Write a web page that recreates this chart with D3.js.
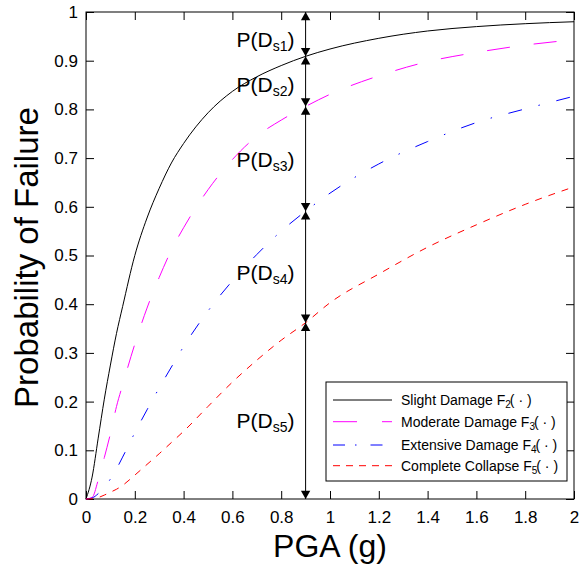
<!DOCTYPE html>
<html>
<head>
<meta charset="utf-8">
<script src="https://cdn.jsdelivr.net/npm/d3@7"></script>
<style>
  html, body { margin: 0; padding: 0; background: #fff; }
  svg { display: block; }
  text { font-family: "Liberation Sans", Arial, Helvetica, sans-serif; fill: #000; }
</style>
</head>
<body>
<svg id="chart" width="587" height="568"></svg>
<script>
// ---------- data ----------
const pga = [0, 0.025, 0.05, 0.075, 0.1, 0.125, 0.15, 0.2, 0.25, 0.3, 0.35, 0.4, 0.5, 0.6, 0.7, 0.8, 0.9, 1.0, 1.2, 1.4, 1.6, 1.8, 2.0];
const slight    = [0, 0.045, 0.125, 0.205, 0.275, 0.34, 0.395, 0.50, 0.577, 0.638, 0.69, 0.73, 0.793, 0.837, 0.867, 0.890, 0.909, 0.924, 0.946, 0.961, 0.970, 0.976, 0.980];
const moderate  = [0, 0.003, 0.039, 0.085, 0.134, 0.19, 0.234, 0.318, 0.392, 0.455, 0.511, 0.557, 0.635, 0.697, 0.745, 0.778, 0.806, 0.831, 0.869, 0.898, 0.917, 0.932, 0.943];
const extensive = [0, 0.002, 0.011, 0.024, 0.041, 0.062, 0.086, 0.136, 0.183, 0.228, 0.271, 0.313, 0.386, 0.448, 0.502, 0.550, 0.591, 0.628, 0.688, 0.734, 0.773, 0.801, 0.827];
const collapse  = [0, 0.0005, 0.003, 0.008, 0.014, 0.02, 0.028, 0.049, 0.071, 0.093, 0.116, 0.139, 0.19, 0.24, 0.285, 0.326, 0.362, 0.403, 0.462, 0.517, 0.563, 0.605, 0.641];

const seriesNames = ["Slight Damage F", "Moderate Damage F", "Extensive Damage F", "Complete Collapse F"];
const seriesSubs = ["2", "3", "4", "5"];
const seriesColors = ["#000000", "#ff00ff", "#0000ff", "#ff0000"];
const seriesDash = [null, "23,24", "14,17,1.5,17", "7,7"];
const legendDash = [null, "24,25", "12,10,1.5,14", "7,6"];

const xTicks = [0, 0.2, 0.4, 0.6, 0.8, 1, 1.2, 1.4, 1.6, 1.8, 2];
const yTicks = [0, 0.1, 0.2, 0.3, 0.4, 0.5, 0.6, 0.7, 0.8, 0.9, 1];

// damage-state annotation at PGA = 0.9 g
const annotX = 0.9;
const stateBounds = [1, 0.909, 0.806, 0.591, 0.362, 0];
const stateSubs = ["s1", "s2", "s3", "s4", "s5"];
const stateLabelY = [0.943, 0.851, 0.697, 0.465, 0.161];

(function () {
  const svg = d3.select("#chart");
  const pL = 86, pR = 574, pT = 12, pB = 499;
  const x = d3.scaleLinear().domain([0, 2]).range([pL, pR]);
  const y = d3.scaleLinear().domain([0, 1]).range([pB, pT]);
  const fmt = d3.format("~g");

  // axes (inward ticks, MATLAB style)
  const gx = svg.append("g").attr("transform", `translate(0,${pB})`)
    .call(d3.axisBottom(x).tickValues(xTicks).tickFormat(fmt).tickSizeInner(-8).tickSizeOuter(0).tickPadding(12));
  const gy = svg.append("g").attr("transform", `translate(${pL},0)`)
    .call(d3.axisLeft(y).tickValues(yTicks).tickFormat(fmt).tickSizeInner(-8).tickSizeOuter(0).tickPadding(8));
  const gxt = svg.append("g").attr("transform", `translate(0,${pT})`)
    .call(d3.axisTop(x).tickValues(xTicks).tickFormat("").tickSizeInner(-8).tickSizeOuter(0));
  const gyr = svg.append("g").attr("transform", `translate(${pR},0)`)
    .call(d3.axisRight(y).tickValues(yTicks).tickFormat("").tickSizeInner(-8).tickSizeOuter(0));
  [gx, gy, gxt, gyr].forEach(g => {
    g.select(".domain").remove();
    g.selectAll(".tick line").attr("stroke", "#000").attr("stroke-width", 1);
    g.selectAll(".tick text").attr("font-size", 17).attr("font-family", "Liberation Sans, Arial, sans-serif").attr("fill", "#000");
  });
  svg.append("rect").attr("x", pL).attr("y", pT).attr("width", pR - pL).attr("height", pB - pT)
    .attr("fill", "none").attr("stroke", "#000").attr("stroke-width", 1);

  // axis titles
  svg.append("text").attr("x", (pL + pR) / 2).attr("y", 557).attr("text-anchor", "middle")
    .attr("font-size", 32).text("PGA (g)");
  svg.append("text").attr("transform", `translate(38,${(pT + pB) / 2 + 2}) rotate(-90)`)
    .attr("text-anchor", "middle").attr("font-size", 33).text("Probability of Failure");

  // curves
  const allSeries = [slight, moderate, extensive, collapse];
  const line = d3.line().x(d => x(d[0])).y(d => y(d[1])).curve(d3.curveMonotoneX);
  allSeries.forEach((vals, i) => {
    svg.append("path")
      .datum(pga.map((p, j) => [p, vals[j]]))
      .attr("d", line)
      .attr("fill", "none")
      .attr("stroke", seriesColors[i])
      .attr("stroke-width", 1)
      .attr("stroke-dasharray", seriesDash[i]);
  });

  // damage-state arrows
  const ax = x(annotX);
  svg.append("line").attr("x1", ax).attr("x2", ax)
    .attr("y1", y(stateBounds[0])).attr("y2", y(stateBounds[stateBounds.length - 1]))
    .attr("stroke", "#000").attr("stroke-width", 1);
  const tw = 4.7, th = 8.3;
  for (let i = 0; i < stateBounds.length - 1; i++) {
    const yt = y(stateBounds[i]), yb = y(stateBounds[i + 1]);
    svg.append("path").attr("d", `M${ax},${yt} L${ax - tw},${yt + th} L${ax + tw},${yt + th} Z`).attr("fill", "#000");
    svg.append("path").attr("d", `M${ax},${yb} L${ax - tw},${yb - th} L${ax + tw},${yb - th} Z`).attr("fill", "#000");
    const t = svg.append("text").attr("x", ax - 69).attr("y", y(stateLabelY[i]) + 7.5).attr("font-size", 21);
    t.append("tspan").text("P(D");
    t.append("tspan").attr("font-size", 14).attr("dy", 4).text(stateSubs[i]);
    t.append("tspan").attr("dy", -4).text(")");
  }

  // legend
  const lg = svg.append("g");
  lg.append("rect").attr("x", 326).attr("y", 382).attr("width", 241).attr("height", 99)
    .attr("fill", "#fff").attr("stroke", "#000").attr("stroke-width", 1);
  const rowY = [400, 421.7, 445, 465.7];
  seriesNames.forEach((name, i) => {
    lg.append("line").attr("x1", 333).attr("x2", 392).attr("y1", rowY[i]).attr("y2", rowY[i])
      .attr("stroke", seriesColors[i]).attr("stroke-width", 1).attr("stroke-dasharray", legendDash[i]);
    const t = lg.append("text").attr("x", 401).attr("y", rowY[i] + 5).attr("font-size", 14);
    t.append("tspan").text(name);
    t.append("tspan").attr("font-size", 10).attr("dy", 3).text(seriesSubs[i]);
    t.append("tspan").attr("dy", -3).attr("dx", -1).text("( · )");
  });
})();
</script>
</body>
</html>
